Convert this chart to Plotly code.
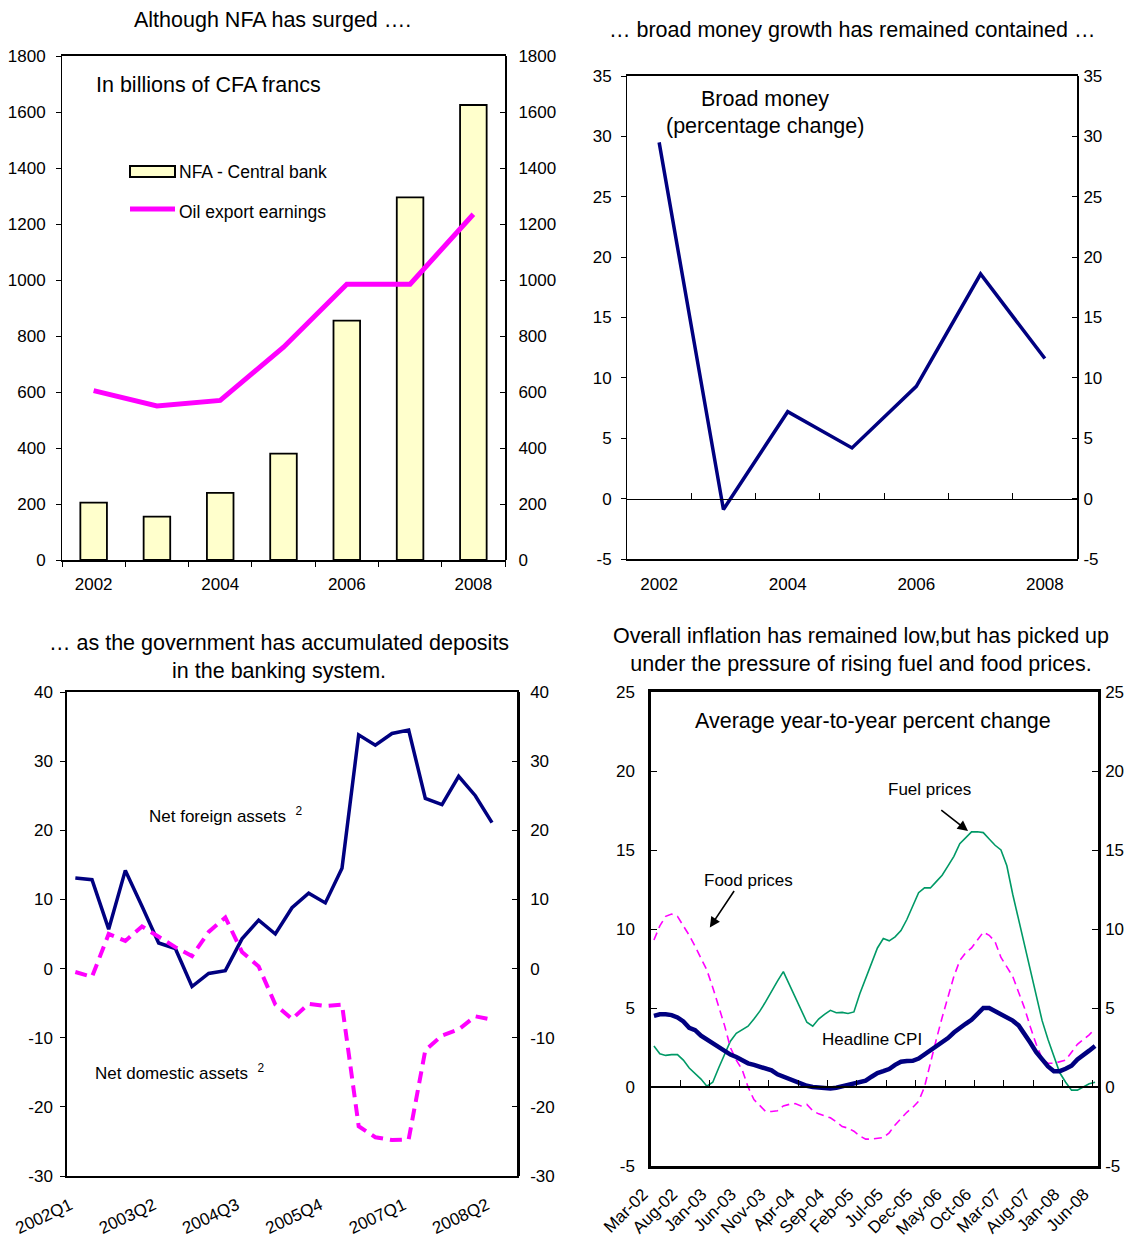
import plotly.graph_objects as go

W, H = 1134, 1239
OFF = 8  # the page body margin shifts the figure by this much
FW, FH = W - OFF, H - OFF
FONT = "Liberation Sans, Arial, sans-serif"

# ---- data ----
years = ["2002", "2003", "2004", "2005", "2006", "2007", "2008"]
year_ticks = ["2002", "2004", "2006", "2008"]
nfa_central_bank = [205, 155, 240, 380, 855, 1295, 1625]
oil_export_earnings = [605, 550, 570, 760, 985, 985, 1235]
broad_money_growth = [29.5, -0.9, 7.2, 4.2, 9.3, 18.6, 11.6]

quarters = [
    "2002Q1", "2002Q2", "2002Q3", "2002Q4", "2003Q1", "2003Q2", "2003Q3", "2003Q4",
    "2004Q1", "2004Q2", "2004Q3", "2004Q4", "2005Q1", "2005Q2", "2005Q3", "2005Q4",
    "2006Q1", "2006Q2", "2006Q3", "2006Q4", "2007Q1", "2007Q2", "2007Q3", "2007Q4",
    "2008Q1", "2008Q2",
]
quarter_ticks = ["2002Q1", "2003Q2", "2004Q3", "2005Q4", "2007Q1", "2008Q2"]
net_foreign_assets = [13.1, 12.85, 5.7, 14.2, 9.0, 3.7, 2.9, -2.6, -0.7, -0.3, 4.3, 7.0, 5.0,
                      8.8, 10.9, 9.5, 14.5, 33.8, 32.3, 34.0, 34.5, 24.6, 23.7, 27.8, 25.0, 21.1]
net_domestic_assets = [-0.5, -1.2, 5.0, 4.0, 6.1, 4.6, 3.1, 1.8, 5.3, 7.4, 2.4, 0.3, -5.2,
                       -7.3, -5.1, -5.4, -5.2, -22.8, -24.4, -24.8, -24.7, -11.8, -9.7, -8.8, -6.9, -7.4]

month_names = ["Jan", "Feb", "Mar", "Apr", "May", "Jun", "Jul", "Aug", "Sep", "Oct", "Nov", "Dec"]
months = ["%s-%02d" % (m, y) for y in range(2, 9) for m in month_names][2:78]
month_ticks = ["Mar-02", "Aug-02", "Jan-03", "Jun-03", "Nov-03", "Apr-04", "Sep-04", "Feb-05",
               "Jul-05", "Dec-05", "May-06", "Oct-06", "Mar-07", "Aug-07", "Jan-08", "Jun-08"]
headline_cpi = [
    4.5, 4.6, 4.6, 4.55, 4.4, 4.15, 3.75, 3.6, 3.25, 3.0, 2.8, 2.55, 2.3, 2.05, 1.9, 1.7,
    1.5, 1.4, 1.3, 1.2, 1.05, 0.8, 0.65, 0.5, 0.35, 0.2, 0.08, 0.0, -0.05, -0.1, -0.1, -0.05,
    0.05, 0.15, 0.25, 0.3, 0.4, 0.65, 0.88, 1.0, 1.14, 1.4, 1.6, 1.65, 1.66, 1.8, 2.05, 2.3,
    2.6, 2.8, 3.1, 3.45, 3.75, 4.0, 4.25, 4.6, 5.0, 5.0, 4.8, 4.6, 4.4, 4.2, 3.9, 3.4,
    2.8, 2.2, 1.7, 1.3, 1.0, 1.0, 1.15, 1.35, 1.75, 2.0, 2.3, 2.6,
]
fuel_prices = [
    2.6, 2.1, 2.0, 2.05, 2.05, 1.7, 1.2, 0.85, 0.5, 0.05, 0.3, 1.2, 2.1, 2.9, 3.4, 3.65,
    3.85, 4.3, 4.8, 5.4, 6.1, 6.7, 7.3, 6.5, 5.7, 4.8, 4.1, 3.85, 4.3, 4.6, 4.85, 4.7,
    4.72, 4.65, 4.75, 5.9, 6.9, 7.9, 8.8, 9.4, 9.25, 9.5, 9.9, 10.6, 11.4, 12.3, 12.6, 12.6,
    13.0, 13.4, 14.0, 14.6, 15.4, 15.8, 16.15, 16.15, 16.1, 15.7, 15.3, 15.0, 14.0, 12.2,
    10.6, 8.9, 7.3, 5.6, 4.2, 3.0, 1.9, 0.9, 0.3, -0.2, -0.2, 0.0, 0.2, 0.3,
]
food_prices = [
    9.3, 10.2, 10.8, 10.95, 10.8, 10.2, 9.6, 8.9, 8.2, 7.4, 6.3, 5.1, 3.9, 2.5, 1.7, 1.1,
    0.0, -0.8, -1.2, -1.55, -1.55, -1.5, -1.2, -1.1, -1.05, -1.2, -1.1, -1.5, -1.7, -1.85,
    -1.95, -2.2, -2.5, -2.6, -2.8, -3.1, -3.3, -3.3, -3.25, -3.2, -2.9, -2.4, -2.0, -1.6,
    -1.3, -0.9, 0.0, 1.6, 3.0, 4.4, 5.7, 7.0, 8.0, 8.5, 8.8, 9.3, 9.8, 9.6, 9.2, 8.2,
    7.6, 7.0, 6.0, 5.0, 3.8, 2.7, 1.8, 1.5, 1.5, 1.6, 1.7, 2.2, 2.7, 3.0, 3.3, 3.7,
]

# y tick labels (hyphen minus, as in the source)
tl_ticks = [0, 200, 400, 600, 800, 1000, 1200, 1400, 1600, 1800]
tr_ticks = [-5, 0, 5, 10, 15, 20, 25, 30, 35]
bl_ticks = [-30, -20, -10, 0, 10, 20, 30, 40]
br_ticks = [-5, 0, 5, 10, 15, 20, 25]

NAVY = "#000080"
MAGENTA = "#FF00FF"
GREEN = "#009966"


def px(x):
    return (x - OFF) / FW


def py(y):
    return 1 - (y - OFF) / FH


def xdom(left, right):
    return [px(left), px(right)]


def ydom(top, bottom):
    return [py(bottom), py(top)]


def zero_position(dom, rng):
    return dom[0] + (0 - rng[0]) / (rng[1] - rng[0]) * (dom[1] - dom[0])


def yticks(vals):
    return dict(tickvals=vals, ticktext=[str(v) for v in vals])


tick_font = dict(family=FONT, size=17, color="black")
base_axis = dict(showgrid=False, zeroline=False, linecolor="black", tickcolor="black",
                 tickfont=tick_font, fixedrange=True, automargin=False)

fig = go.Figure()

# ---- top left: NFA and oil earnings ----
fig.add_trace(go.Bar(x=years, y=nfa_central_bank, xaxis="x", yaxis="y", width=0.42,
                     marker=dict(color="#FFFFCC", line=dict(color="black", width=1.8)),
                     showlegend=False))
fig.add_trace(go.Scatter(x=years, y=oil_export_earnings, xaxis="x", yaxis="y", mode="lines",
                         line=dict(color=MAGENTA, width=5), showlegend=False))

# ---- top right: broad money ----
fig.add_trace(go.Scatter(x=years, y=broad_money_growth, xaxis="x3", yaxis="y3", mode="lines",
                         line=dict(color=NAVY, width=3.5), showlegend=False))

# ---- bottom left: NFA / NDA ----
fig.add_trace(go.Scatter(x=quarters, y=net_foreign_assets, xaxis="x5", yaxis="y5", mode="lines",
                         line=dict(color=NAVY, width=3.5), showlegend=False))
fig.add_trace(go.Scatter(x=quarters, y=net_domestic_assets, xaxis="x5", yaxis="y5", mode="lines",
                         line=dict(color=MAGENTA, width=4, dash="12px,7px"), showlegend=False))

# ---- bottom right: inflation ----
fig.add_trace(go.Scatter(x=months, y=fuel_prices, xaxis="x6", yaxis="y7", mode="lines",
                         line=dict(color=GREEN, width=1.6), showlegend=False))
fig.add_trace(go.Scatter(x=months, y=food_prices, xaxis="x6", yaxis="y7", mode="lines",
                         line=dict(color=MAGENTA, width=1.6, dash="8px,5px"), showlegend=False))
fig.add_trace(go.Scatter(x=months, y=headline_cpi, xaxis="x6", yaxis="y7", mode="lines",
                         line=dict(color=NAVY, width=4.5), showlegend=False))

# empty traces so every overlay axis gets its own subplot and is drawn
for xa, ya in [("x2", "y"), ("x", "y2"), ("x4", "y3"), ("x3", "y4"),
               ("x5", "y6"), ("x7", "y7"), ("x6", "y8")]:
    fig.add_trace(go.Scatter(x=[None], y=[None], xaxis=xa, yaxis=ya, mode="lines",
                             hoverinfo="skip", showlegend=False))

tl_x, tl_y = xdom(62, 505), ydom(56, 560)
tr_x, tr_y = xdom(627, 1077), ydom(76, 559)
bl_x, bl_y = xdom(67, 517), ydom(692, 1176)
br_x, br_y = xdom(651, 1098), ydom(692, 1166)
tl_range, tr_range, bl_range, br_range = [0, 1800], [-5, 35], [-30, 40], [-5, 25]

fig.update_layout(
    width=FW, height=FH, margin=dict(l=0, r=0, t=0, b=0),
    paper_bgcolor="white", plot_bgcolor="white",
    font=dict(family=FONT, size=17, color="black"),
    # top left
    xaxis=dict(base_axis, domain=tl_x, anchor="y", type="category", range=[-0.5, 6.5],
               tickvals=year_ticks, ticks="", showline=True, mirror=True, linewidth=1.5,
               ticklabelstandoff=8),
    xaxis2=dict(base_axis, overlaying="x", anchor="y", range=[-0.5, 6.5],
                tickvals=[-0.5, 0.5, 1.5, 2.5, 3.5, 4.5, 5.5, 6.5], ticks="outside", ticklen=6,
                showticklabels=False),
    yaxis=dict(base_axis, domain=tl_y, anchor="x", range=tl_range, ticks="outside",
               ticklen=5, showline=True, mirror=True, linewidth=1, ticklabelstandoff=7,
               **yticks(tl_ticks)),
    yaxis2=dict(base_axis, overlaying="y", anchor="x", side="right", range=tl_range,
                ticks="inside", ticklen=5, showline=True, linewidth=2, ticklabelstandoff=8,
                **yticks(tl_ticks)),
    # top right
    xaxis3=dict(base_axis, domain=tr_x, anchor="y3", type="category", range=[-0.5, 6.5],
                tickvals=year_ticks, ticks="", showline=True, mirror=True, linewidth=1.5,
                ticklabelstandoff=9),
    xaxis4=dict(base_axis, overlaying="x3", anchor="free",
                position=zero_position(tr_y, tr_range), range=[-0.5, 6.5],
                tickvals=[0.5, 1.5, 2.5, 3.5, 4.5, 5.5], ticks="inside", ticklen=6,
                showline=True, linewidth=1, showticklabels=False),
    yaxis3=dict(base_axis, domain=tr_y, anchor="x3", range=tr_range, ticks="outside",
                ticklen=5, showline=True, mirror=True, linewidth=1, ticklabelstandoff=6,
                **yticks(tr_ticks)),
    yaxis4=dict(base_axis, overlaying="y3", anchor="x3", side="right", range=tr_range,
                ticks="inside", ticklen=5, showline=True, linewidth=2, ticklabelstandoff=1,
                **yticks(tr_ticks)),
    # bottom left
    xaxis5=dict(base_axis, domain=bl_x, anchor="y5", type="category", range=[-0.5, 26.5],
                tickvals=quarter_ticks, tickangle=-25, ticks="", showline=True, mirror=True,
                linewidth=2, ticklabelstandoff=11, ticklabelshift=-5),
    yaxis5=dict(base_axis, domain=bl_y, anchor="x5", range=bl_range, ticks="outside",
                ticklen=5, showline=True, mirror=True, linewidth=1.5, ticklabelstandoff=4,
                **yticks(bl_ticks)),
    yaxis6=dict(base_axis, overlaying="y5", anchor="x5", side="right", range=bl_range,
                ticks="inside", ticklen=5, showline=True, linewidth=2.5, ticklabelstandoff=7,
                **yticks(bl_ticks)),
    # bottom right
    xaxis6=dict(base_axis, domain=br_x, anchor="y7", type="category", range=[-0.5, 75.5],
                tickvals=month_ticks, tickangle=-45, ticks="", showline=True, mirror=True,
                linewidth=2.5, ticklabelstandoff=9, ticklabelshift=-11),
    xaxis7=dict(base_axis, overlaying="x6", anchor="free",
                position=zero_position(br_y, br_range), range=[-0.5, 75.5],
                tickvals=[4.5 + 5 * k for k in range(15)], ticks="inside", ticklen=6,
                showline=True, linewidth=2, showticklabels=False),
    yaxis7=dict(base_axis, domain=br_y, anchor="x6", range=br_range, ticks="inside",
                ticklen=6, showline=True, mirror=True, linewidth=2.5, ticklabelstandoff=10,
                **yticks(br_ticks)),
    yaxis8=dict(base_axis, overlaying="y7", anchor="x6", side="right", range=br_range,
                ticks="inside", ticklen=6, showline=True, linewidth=2.5, ticklabelstandoff=1,
                **yticks(br_ticks)),
)

# manual legend for the top left panel
fig.add_shape(type="rect", xref="paper", yref="paper", x0=px(130), x1=px(175),
              y0=py(177), y1=py(166), fillcolor="#FFFFCC", line=dict(color="black", width=2))
fig.add_shape(type="line", xref="paper", yref="paper", x0=px(130), x1=px(175),
              y0=py(209), y1=py(209), line=dict(color=MAGENTA, width=5))


def note(text, x, y, xref="paper", yref="paper", size=17, xanchor="center"):
    fig.add_annotation(text=text, x=x, y=y, xref=xref, yref=yref, showarrow=False,
                       xanchor=xanchor, yanchor="middle", font=dict(family=FONT, size=size))


note("NFA - Central bank", px(177), py(172), size=17.5, xanchor="left")
note("Oil export earnings", px(177), py(212), size=17.5, xanchor="left")

# titles
note("Although NFA has surged \u2026.", px(272), py(20), size=21.5)
note("\u2026 broad money growth has remained contained \u2026", px(852), py(30), size=21.5)
note("\u2026 as the government has accumulated deposits<br>in the banking system.",
     px(279), py(657), size=21.5)
note("Overall inflation has remained low,but has picked up<br>under the pressure of rising fuel and food prices.",
     px(861), py(650), size=21.5)

# in-panel labels (data coordinates)
note("In billions of CFA francs", 0.0, 1696, "x", "y", size=21.5, xanchor="left")
note("Broad money", 1.65, 33.1, "x3", "y3", size=21.5)
note("(percentage change)", 1.65, 30.9, "x3", "y3", size=21.5)
note("Net foreign assets  <sup>2</sup>", 9.0, 22.2, "x5", "y5")
note("Net domestic assets  <sup>2</sup>", 6.3, -14.9, "x5", "y5")
note("Average year-to-year percent change", 37.25, 23.15, "x6", "y7", size=21.5)
note("Fuel prices", 46.9, 18.85, "x6", "y7")
note("Food prices", 16.0, 13.1, "x6", "y7")
note("Headline CPI", 37.1, 3.0, "x6", "y7")

for head, tail in [((53.4, 16.2), (48.6, 17.6)), ((9.5, 10.1), (13.8, 12.5))]:
    fig.add_annotation(x=head[0], y=head[1], ax=tail[0], ay=tail[1], xref="x6", yref="y7",
                       axref="x6", ayref="y7", text="", showarrow=True, arrowhead=2,
                       arrowsize=1.3, arrowwidth=1.6, arrowcolor="black")

fig.write_html("out.html")
